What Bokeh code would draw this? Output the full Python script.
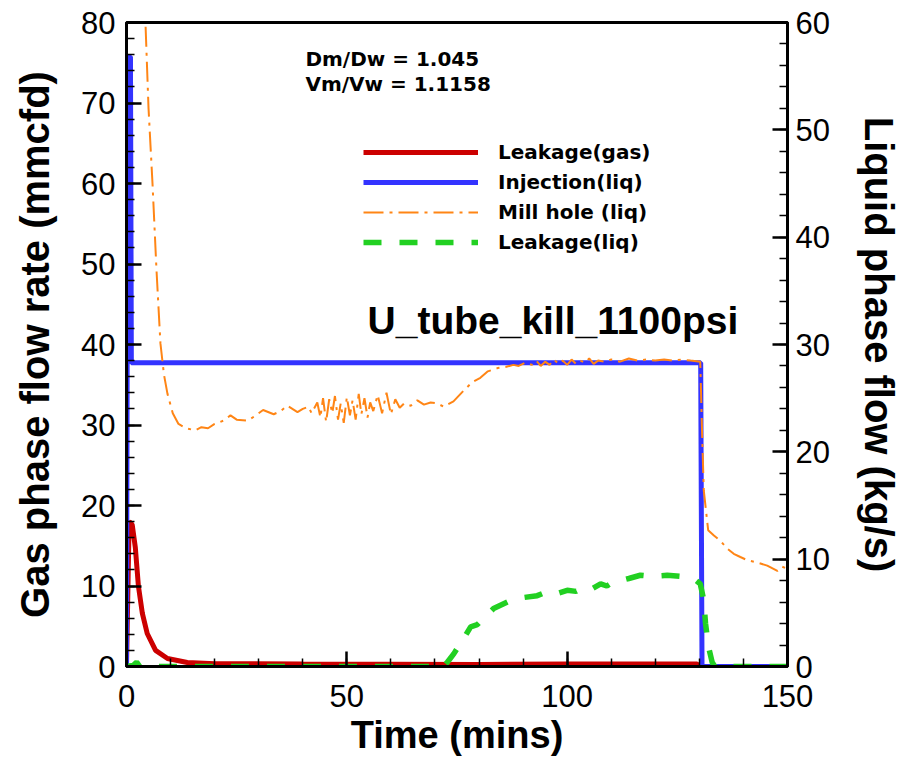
from bokeh.plotting import figure
from bokeh.models import Range1d, LinearAxis, Legend, LegendItem, Label, FixedTicker
from bokeh.embed import file_html
from bokeh.resources import INLINE

# ---------------- data ----------------
x_ticks = [0, 50, 100, 150]
gas_ticks = [0, 10, 20, 30, 40, 50, 60, 70, 80]
liq_ticks = [0, 10, 20, 30, 40, 50, 60]

# Leakage(gas) [mmcfd] - left axis
gas_t = [0, 0.6, 1.3, 2.0, 2.7, 3.6, 4.7, 6.6, 9.3, 13.8, 20, 40, 60, 80, 100, 129.5, 130.0, 150]
gas_v = [0, 18.0, 17.6, 14.8, 10.0, 6.6, 4.1, 2.0, 1.0, 0.5, 0.35, 0.3, 0.28, 0.25, 0.3, 0.3, 0, 0]

# Injection(liq) [kg/s] - right axis
inj_t = [0, 0.3, 0.9, 1.1, 130.3, 130.6, 150]
inj_v = [0, 56.8, 56.8, 28.3, 28.3, 0, 0]

# Mill hole (liq) [kg/s] - right axis
mill_t = [0, 0.15, 2.0, 3.2, 4.3, 5.0, 5.9, 6.8, 7.7, 8.5, 9.3, 10.5, 11.8, 13.5, 15.6, 17.0,
          18.5, 20.0, 22.0, 23.6, 25.0, 27.5, 29.0, 31.0, 33.4, 35.0, 36.5, 38.8, 40.0, 41.3,
          42.0, 43.3, 44.0, 44.6, 45.3, 46.0, 46.7, 47.3, 48.0, 48.6, 49.3, 50.0, 50.7, 51.3,
          52.0, 52.7, 53.3, 54.0, 54.7, 55.3, 56.0, 57.0, 58.0, 59.0, 60.0, 61.0, 62.0, 63.0,
          64.5, 66.0, 67.5, 69.0, 70.6, 72.0, 74.2, 76.5, 78.5, 80.3, 82.0, 84.2, 86.0, 87.8,
          89.0, 90.5, 92.0, 93.0, 94.0, 95.0, 96.0, 97.0, 98.0, 99.0, 100.0, 101.0, 102.0,
          103.0, 104.0, 105.0, 106.0, 107.0, 108.5, 110.0, 112.0, 114.0, 116.0, 118.0, 120.0,
          122.0, 124.0, 126.0, 128.0, 130.2, 130.6, 131.0, 132.0, 133.3, 134.8, 136.3, 137.8,
          139.3, 140.9, 143.0, 145.4, 147.7, 148.8, 150.0]
mill_v = [0, 95.0, 80.0, 68.0, 60.0, 52.0, 45.0, 37.0, 30.1, 27.2, 25.4, 23.6, 22.6, 22.2, 22.0, 22.3,
          22.2, 22.6, 22.9, 23.4, 23.0, 22.9, 23.3, 23.9, 23.5, 23.8, 24.3, 23.7, 24.0, 24.2,
          23.6, 24.6, 23.2, 25.0, 22.8, 24.9, 23.6, 25.2, 23.0, 24.5, 22.7, 25.1, 23.4, 24.8,
          23.0, 25.4, 23.5, 25.0, 23.2, 24.6, 23.8, 25.3, 23.6, 25.5, 23.5, 24.9, 24.1, 24.5,
          24.3, 24.8, 24.4, 24.6, 24.5, 24.2, 24.7, 25.7, 26.5, 26.9, 27.5, 27.8, 27.9, 28.1,
          28.0, 28.3, 28.1, 28.5, 28.0, 28.4, 28.1, 28.6, 28.2, 28.5, 28.1, 28.6, 28.2,
          28.5, 28.3, 28.7, 28.2, 28.5, 28.4, 28.6, 28.4, 28.7, 28.5, 28.6, 28.5,
          28.6, 28.5, 28.6, 28.5, 28.4, 22.0, 16.4, 12.7, 12.2, 11.7, 11.0, 10.5,
          10.2, 9.9, 9.7, 9.4, 8.9, 9.3, 9.1]

# Leakage(liq) [kg/s] - right axis
leak_t = [0, 1.5, 2.3, 3.0, 72.0, 72.8, 74.3, 76.5, 78.1, 79.6, 83.3, 87.9, 93.2, 95.0, 97.0,
          100.0, 102.0, 104.0, 105.5, 107.6, 109.0, 110.5, 112.1, 114.0, 116.6, 119.0, 122.7,
          125.5, 128.7, 130.2, 131.0, 131.4, 132.1, 132.9, 133.5, 150]
leak_v = [0, 0.1, 0.4, 0, 0, 0.4, 1.2, 2.6, 3.7, 3.9, 5.4, 6.3, 6.6, 6.9, 6.7,
          7.1, 7.0, 7.4, 7.2, 7.7, 7.5, 7.9, 8.0, 8.2, 8.5, 8.4, 8.5,
          8.4, 8.2, 7.7, 6.2, 4.0, 1.8, 0.4, 0, 0]

labels = ["Leakage(gas)", "Injection(liq)", "Mill hole (liq)", "Leakage(liq)"]
annot_lines = ["Dm/Dw = 1.045", "Vm/Vw = 1.1158"]
case_name = "U_tube_kill_1100psi"

# ---------------- figure ----------------
p = figure(frame_width=661, frame_height=644,
           x_range=Range1d(0, 150), y_range=Range1d(0, 80),
           output_backend="svg", toolbar_location=None,
           min_border_left=126, min_border_right=125, min_border_top=22, min_border_bottom=94)
p.extra_y_ranges = {"liq": Range1d(0, 60)}
p.grid.visible = False
p.background_fill_color = "white"
p.border_fill_color = "white"
p.outline_line_color = "black"
p.outline_line_width = 3
p.outline_line_alpha = 1

right_axis = LinearAxis(y_range_name="liq")
p.add_layout(right_axis, "right")

p.xaxis.ticker = FixedTicker(ticks=x_ticks, minor_ticks=list(range(0, 151, 10)))
p.yaxis[0].ticker = FixedTicker(ticks=gas_ticks, minor_ticks=list(range(0, 81, 2)))
right_axis.ticker = FixedTicker(ticks=liq_ticks, minor_ticks=list(range(0, 61, 2)))

p.xaxis.axis_label = "Time (mins)"
p.yaxis[0].axis_label = "Gas phase flow rate (mmcfd)"
right_axis.axis_label = "Liquid phase flow (kg/s)"

for ax in [p.xaxis[0], p.yaxis[0], right_axis]:
    ax.axis_line_width = 3
    ax.axis_line_color = "black"
    ax.major_tick_line_width = 2.5
    ax.minor_tick_line_width = 1.5
    ax.major_tick_in = 15
    ax.major_tick_out = 0
    ax.minor_tick_in = 8
    ax.minor_tick_out = 0
    ax.major_label_text_font = "Liberation Sans"
    ax.major_label_text_font_size = "31px"
    ax.major_label_text_color = "black"
    ax.major_label_text_line_height = 1.0
    ax.axis_label_text_font = "Liberation Sans"
    ax.axis_label_text_font_style = "bold"
    ax.axis_label_text_color = "black"
    ax.axis_label_text_line_height = 1.0

p.xaxis[0].axis_label_text_font_size = "38px"
p.xaxis[0].major_label_standoff = 18
p.xaxis[0].axis_label_standoff = 4
p.yaxis[0].axis_label_text_font_size = "40px"
p.yaxis[0].major_label_standoff = 11
p.yaxis[0].axis_label_standoff = 21
right_axis.axis_label_text_font_size = "40px"
right_axis.major_label_standoff = 8
right_axis.axis_label_standoff = 24

# ---------------- lines ----------------
r_gas = p.line(gas_t, gas_v, line_color="#CC0000", line_width=5)
r_inj = p.line(inj_t, inj_v, line_color="#3333FF", line_width=5, y_range_name="liq")
r_leak = p.line(leak_t, leak_v, line_color="#22D022", line_width=5.5, line_dash="18 18",
                y_range_name="liq")
r_mill = p.line(mill_t, mill_v, line_color="#FF8515", line_width=2, line_dash="20 6 3 6",
                y_range_name="liq")

legend = Legend(items=[LegendItem(label=labels[0], renderers=[r_gas]),
                       LegendItem(label=labels[1], renderers=[r_inj]),
                       LegendItem(label=labels[2], renderers=[r_mill]),
                       LegendItem(label=labels[3], renderers=[r_leak])],
                location=(237, 409), padding=0, margin=0, spacing=0,
                glyph_width=115, glyph_height=30, label_height=30, label_standoff=20,
                label_text_font="DejaVu Sans", label_text_font_style="bold",
                label_text_font_size="20px", label_text_color="black",
                border_line_color=None, background_fill_alpha=0)
p.add_layout(legend, "center")

for txt, yy in zip(annot_lines, [75.5, 72.4]):
    p.add_layout(Label(x=40.6, y=yy, text=txt, text_font="DejaVu Sans",
                       text_font_style="bold", text_font_size="20px",
                       text_color="black", text_baseline="alphabetic"))
p.add_layout(Label(x=54.7, y=43.0, text=case_name, text_font="Liberation Sans",
                   text_font_style="bold", text_font_size="39px",
                   text_color="black", text_baseline="alphabetic"))

open("out.html", "w").write(file_html(p, INLINE))
